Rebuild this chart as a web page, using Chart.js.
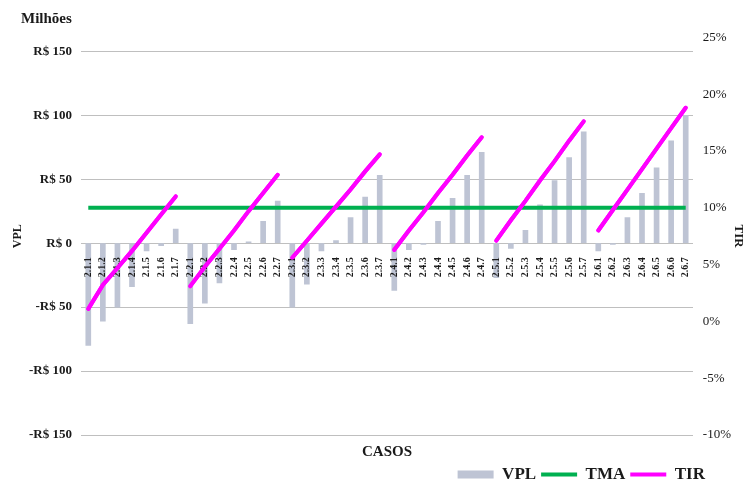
<!DOCTYPE html>
<html>
<head>
<meta charset="utf-8">
<title>VPL x TIR x TMA</title>
<script src="https://cdn.jsdelivr.net/npm/chart.js@4.4.1/dist/chart.umd.min.js"></script>
<style>
  html, body { margin: 0; padding: 0; background: #fff; }
  canvas { display: block; }
</style>
</head>
<body>
<canvas id="chart" width="745" height="481"></canvas>
<script>
// categories (cases)
const cases = [
  '2.1.1', '2.1.2', '2.1.3', '2.1.4', '2.1.5', '2.1.6', '2.1.7',
  '2.2.1', '2.2.2', '2.2.3', '2.2.4', '2.2.5', '2.2.6', '2.2.7',
  '2.3.1', '2.3.2', '2.3.3', '2.3.4', '2.3.5', '2.3.6', '2.3.7',
  '2.4.1', '2.4.2', '2.4.3', '2.4.4', '2.4.5', '2.4.6', '2.4.7',
  '2.5.1', '2.5.2', '2.5.3', '2.5.4', '2.5.5', '2.5.6', '2.5.7',
  '2.6.1', '2.6.2', '2.6.3', '2.6.4', '2.6.5', '2.6.6', '2.6.7',
];

// VPL in R$ millions (left axis)
const vpl = [
  -80, -61, -50, -34, -6, -2, 11,
  -63, -47, -31, -5, 1, 17, 33,
  -50, -32, -6, 2, 20, 36, 53,
  -37, -5, -1, 17, 35, 53, 71,
  -27, -4, 10, 30, 49, 67, 87,
  -6, -1, 20, 39, 59, 80, 100,
];

// TMA in % (right axis)
const tma = [
  10, 10, 10, 10, 10, 10, 10,
  10, 10, 10, 10, 10, 10, 10,
  10, 10, 10, 10, 10, 10, 10,
  10, 10, 10, 10, 10, 10, 10,
  10, 10, 10, 10, 10, 10, 10,
  10, 10, 10, 10, 10, 10, 10,
];

// TIR in % (right axis)
const tir = [
  1.1, 3.2, 4.7, 6.2, 7.8, 9.4, 11.0,
  3.1, 4.8, 6.4, 8.0, 9.7, 11.3, 12.9,
  5.6, 7.1, 8.6, 10.1, 11.6, 13.2, 14.7,
  6.3, 8.0, 9.6, 11.3, 12.9, 14.6, 16.2,
  7.1, 8.9, 10.6, 12.4, 14.1, 15.9, 17.6,
  8.0, 9.8, 11.6, 13.4, 15.2, 17.0, 18.8,
];

// axis ranges / ticks
const vplMin = -150;
const vplMax = 161;
const vplStep = 50;
const pctMin = -10;
const pctMax = 25;
const pctStep = 5;

const serif = "'Liberation Serif', 'Times New Roman', serif";
const ink = '#1a1a1a';

const sameGroup = (i, j) => cases[i].slice(0, 3) === cases[j].slice(0, 3);

const fmtMoney = (v) => (v < 0 ? '-R$ ' + Math.abs(v) : 'R$ ' + v);

// TIR drawn again after the category labels so it sits on top of them
const tirOnTop = {
  id: 'tirOnTop',
  afterDraw(chart) {
    const meta = chart.getDatasetMeta(2);
    const area = chart.chartArea;
    const ctx = chart.ctx;
    ctx.save();
    ctx.beginPath();
    ctx.rect(area.left, area.top, area.right - area.left, area.bottom - area.top);
    ctx.clip();
    meta.controller.draw();
    ctx.restore();
  },
};

new Chart(document.getElementById('chart'), {
  type: 'bar',
  data: {
    labels: cases,
    datasets: [
      {
        label: 'VPL',
        data: vpl,
        yAxisID: 'y',
        backgroundColor: '#BEC4D4',
        borderWidth: 0,
        barThickness: 5,
        pointStyle: 'rect',
        order: 3,
      },
      {
        type: 'line',
        label: 'TMA',
        data: tma,
        yAxisID: 'y1',
        borderColor: '#00B050',
        backgroundColor: '#00B050',
        borderWidth: 4,
        pointRadius: 0,
        pointHoverRadius: 0,
        pointStyle: 'line',
        order: 2,
      },
      {
        type: 'line',
        label: 'TIR',
        data: tir,
        yAxisID: 'y1',
        borderColor: '#FF00FF',
        backgroundColor: '#FF00FF',
        borderWidth: 4,
        borderCapStyle: 'round',
        pointRadius: 0,
        pointHoverRadius: 0,
        pointStyle: 'line',
        order: 1,
        segment: {
          borderColor: (ctx) => (sameGroup(ctx.p0DataIndex, ctx.p1DataIndex) ? '#FF00FF' : 'rgba(0,0,0,0)'),
        },
      },
    ],
  },
  options: {
    responsive: false,
    animation: false,
    events: [],
    layout: { padding: { left: 21, right: 35, top: 0, bottom: -12 } },
    plugins: {
      tooltip: { enabled: false },
      title: {
        display: true,
        text: 'Milhões',
        position: 'top',
        align: 'start',
        color: ink,
        font: { family: serif, size: 15, weight: 'bold' },
        padding: { top: 10, bottom: 9.3 },
      },
      subtitle: {
        display: true,
        text: 'CASOS',
        position: 'bottom',
        fullSize: false,
        align: 'center',
        color: ink,
        font: { family: serif, size: 15, weight: 'bold' },
        padding: { top: 8, bottom: 0 },
      },
      legend: {
        position: 'bottom',
        align: 'end',
        reverse: true,
        weight: 3000,
        labels: {
          usePointStyle: true,
          pointStyleWidth: 36,
          boxHeight: 8,
          padding: 5,
          color: ink,
          font: { family: serif, size: 17, weight: 'bold' },
        },
      },
    },
    scales: {
      x: {
        type: 'category',
        position: { y: 0 },
        offset: true,
        grid: { display: false },
        border: { display: false },
        ticks: {
          z: 1,
          autoSkip: false,
          minRotation: 90,
          maxRotation: 90,
          padding: 6,
          color: ink,
          font: { family: serif, size: 10, weight: 'bold' },
        },
        afterFit: (scale) => { scale.height = 0; },
      },
      y: {
        position: 'left',
        min: vplMin,
        max: vplMax,
        grid: { color: '#BFBFBF', lineWidth: 1, drawTicks: false },
        border: { display: false },
        ticks: {
          stepSize: vplStep,
          includeBounds: false,
          padding: 9,
          color: ink,
          font: { family: serif, size: 13, weight: 'bold' },
          callback: (v) => fmtMoney(v),
        },
        title: {
          display: true,
          text: 'VPL',
          color: ink,
          font: { family: serif, size: 12, weight: 'bold' },
          padding: { top: -10.5, bottom: 0 },
        },
        afterFit: (scale) => { scale.width = 60; },
      },
      y1: {
        position: 'right',
        min: pctMin,
        max: pctMax,
        grid: { display: false },
        border: { display: false },
        ticks: {
          stepSize: pctStep,
          mirror: true,
          crossAlign: 'far',
          padding: 38,
          color: ink,
          font: { family: serif, size: 13 },
          callback: (v) => v + '%',
        },
        title: {
          display: true,
          text: 'TIR',
          color: ink,
          font: { family: serif, size: 13, weight: 'bold' },
          padding: { top: -36.3, bottom: 0 },
        },
        afterFit: (scale) => {
          scale.width = 17;
          scale.paddingTop = 0;
          scale.paddingBottom = 0;
        },
      },
    },
  },
  plugins: [tirOnTop],
});
</script>
</body>
</html>
